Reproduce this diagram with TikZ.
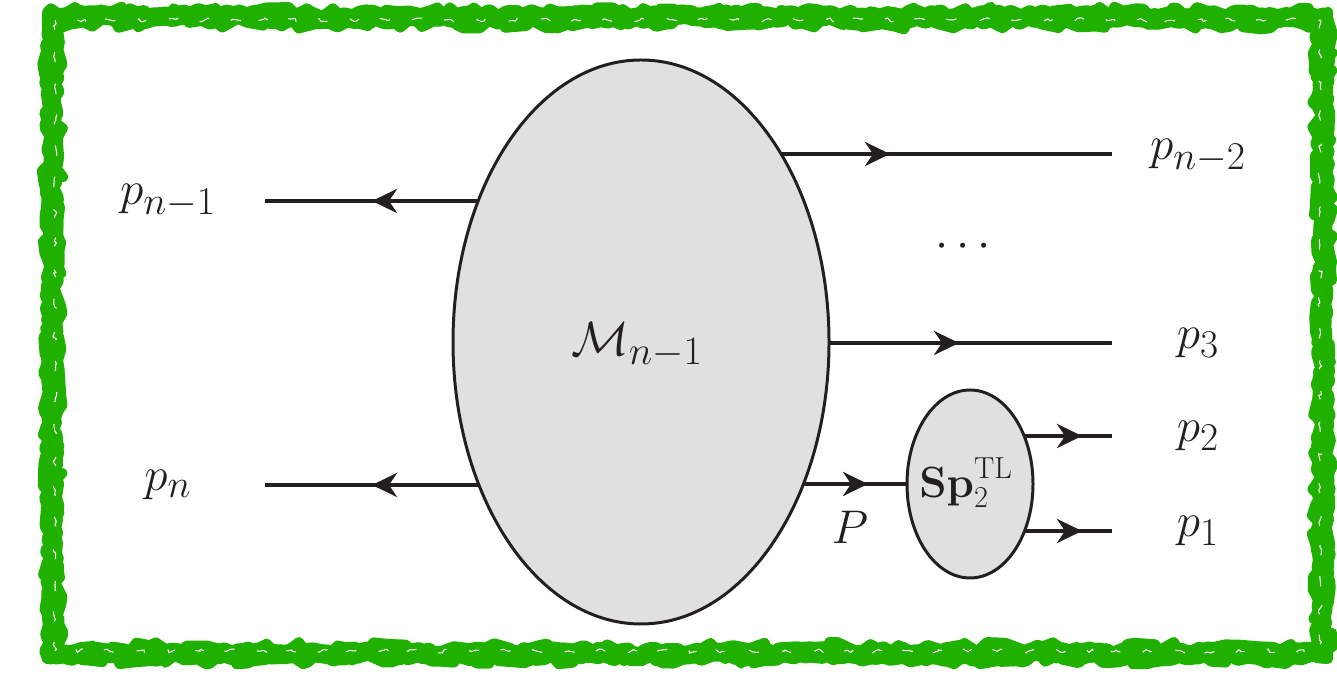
\documentclass[tikz,border=0pt]{standalone}
\usepackage{amsmath,amssymb}
\usepackage{graphicx}
\usetikzlibrary{arrows.meta, shapes.geometric, decorations.markings, decorations.pathmorphing, backgrounds}
\definecolor{ink}{RGB}{35,31,32}
\definecolor{framegreen}{RGB}{32,176,0}
\newcommand{\plab}[2][1.08]{\scalebox{#1}{$#2$}}
\tikzset{
  blob/.style  = {ellipse, draw=ink, fill=black!12, line width=1.7pt, inner sep=0pt, outer sep=0pt},
  leg/.style   = {draw=ink, line width=2.3pt,
                  decoration={markings, mark=at position #1 with {\arrow{Stealth[length=5mm,width=4.8mm,inset=1.6mm]}}},
                  postaction={decorate}},
  lbl/.style   = {font=\fontsize{30}{36}\selectfont, text=ink, inner sep=0pt},
  rough/.style = {draw=framegreen, decorate, line join=round,
                  decoration={random steps, segment length=#1, amplitude=0.6*#1}},
}

\begin{document}
\begin{tikzpicture}
  \useasboundingbox (0,0) rectangle (26.74,13.52);

  % hand drawn frame
  \draw[rough=3pt, line width=0.38cm] (1.04,0.44) rectangle (26.46,13.18);
  \draw[rough=5pt, line width=0.20cm] (0.94,0.34) rectangle (26.56,13.28);
  \draw[rough=6pt, line width=0.20cm] (1.14,0.56) rectangle (26.36,13.06);
  \draw[rough=2pt, white, line width=0.6pt, dash pattern=on 6pt off 14pt] (1.10,0.50) rectangle (26.40,13.12);

  % blobs
  \node[blob, minimum width=7.52cm, minimum height=11.28cm] (M)  at (12.82,6.68) {};
  \node[blob, minimum width=2.52cm, minimum height=3.76cm]  (Sp) at (19.40,3.84) {};
  \node[lbl] (Mlbl) at (12.74,6.62) {\plab[1.1]{\mathcal{M}_{n-1}}};
  \node[lbl, font=\fontsize{23}{27}\selectfont] (Splbl) at (19.32,3.86) {$\mathbf{Sp}_2^{\mathrm{TL}}$};

  % free ends
  \coordinate (epn1) at (5.30,9.50);
  \coordinate (epn)  at (5.30,3.82);
  \coordinate (epn2) at (22.24,10.44);
  \coordinate (ep3)  at (22.24,6.66);
  \coordinate (ep2)  at (22.24,4.80);
  \coordinate (ep1)  at (22.24,2.90);

  \begin{scope}[on background layer]
    \draw[leg=5.38cm] (M.center |- epn1) -- (epn1);
    \draw[leg=5.38cm] (M.center |- epn)  -- (epn);
    \draw[leg=4.98cm] (M.center |- epn2) -- (epn2);
    \draw[leg=6.36cm] (M.center |- ep3)  -- (ep3);
    \draw[leg=4.54cm] (M.center |- Sp.center) -- (Sp.center);
    \draw[leg=2.24cm] (Sp.center |- ep2) -- (ep2);
    \draw[leg=2.24cm] (Sp.center |- ep1) -- (ep1);
  \end{scope}

  % labels
  \node[lbl] (pn1) at (3.36,9.50)  {\plab{p_{n-1}}};
  \node[lbl] (pn)  at (3.36,3.82)  {\plab{p_n}};
  \node[lbl] (pn2) at (23.96,10.40) {\plab{p_{n-2}}};
  \node[lbl] (p3)  at (23.96,6.66)  {\plab{p_3}};
  \node[lbl] (p2)  at (23.96,4.80)  {\plab{p_2}};
  \node[lbl] (p1)  at (23.96,2.90)  {\plab{p_1}};
  \node[lbl] (dots) at (19.34,8.58) {\plab{\cdots}};
  \node[lbl] (P)   at (17.00,2.98)  {\plab{P}};
\end{tikzpicture}
\end{document}
